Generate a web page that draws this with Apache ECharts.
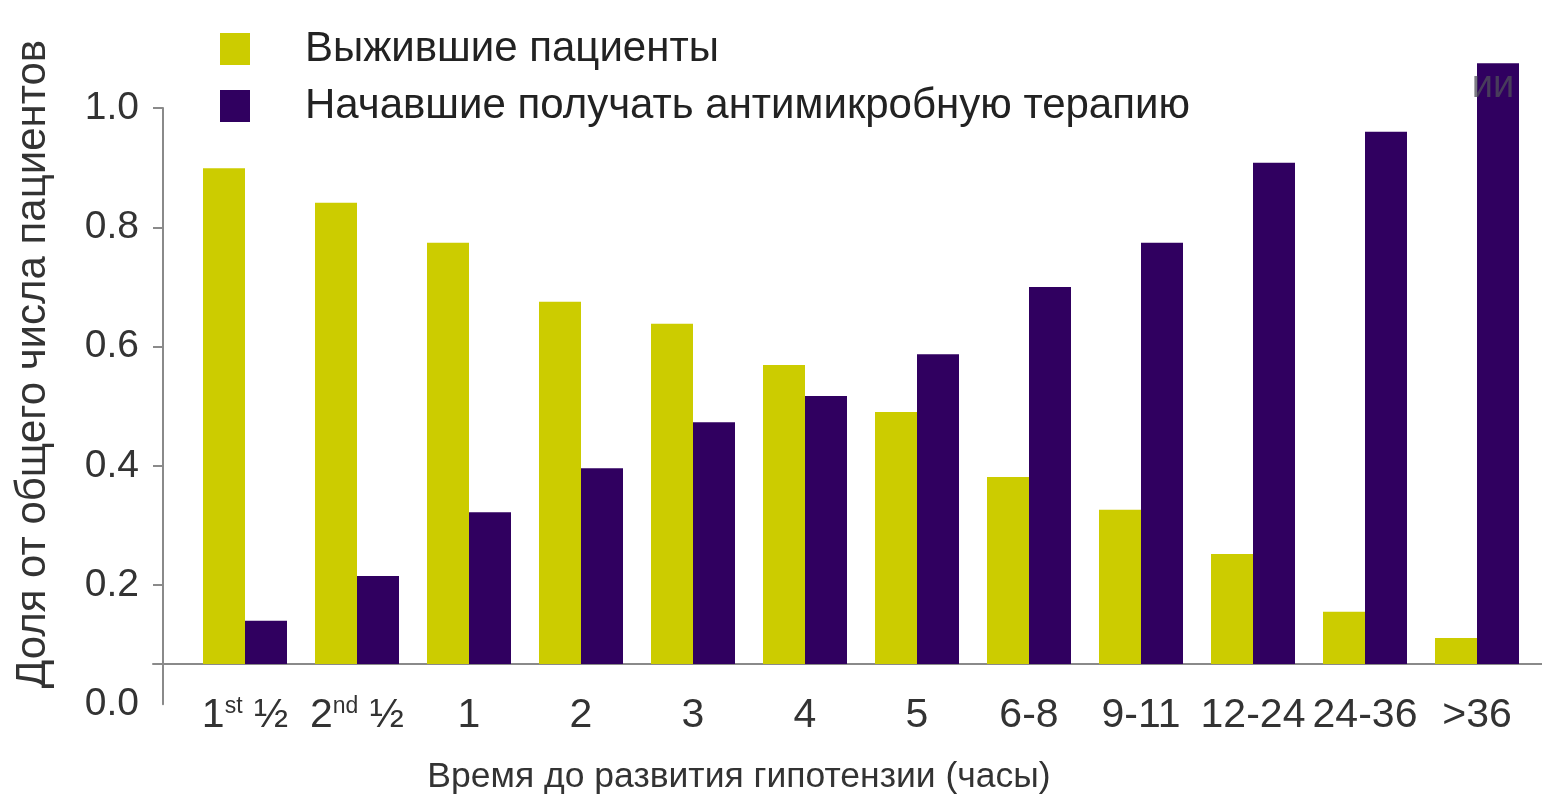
<!DOCTYPE html>
<html><head><meta charset="utf-8">
<script src="https://cdn.jsdelivr.net/npm/echarts@6/dist/echarts.min.js"></script>
<style>html,body{margin:0;padding:0;background:#fff}#c{width:1542px;height:808px}</style>
</head><body><div id="c"></div>
<script>
// ---- data ----
const categories = ['1st ½', '2nd ½', '1', '2', '3', '4', '5', '6-8', '9-11', '12-24', '24-36', '>36'];
const survived = [0.899, 0.841, 0.774, 0.675, 0.638, 0.569, 0.490, 0.381, 0.326, 0.252, 0.155, 0.111];
const startedTherapy = [0.140, 0.215, 0.322, 0.396, 0.473, 0.517, 0.587, 0.700, 0.774, 0.908, 0.960, 1.075];
const seriesNames = ['Выжившие пациенты', 'Начавшие получать антимикробную терапию'];
const yTickValues = [0.2, 0.4, 0.6, 0.8, 1.0];
const xTitle = 'Время до развития гипотензии (часы)';
const yTitle = 'Доля от общего числа пациентов';
const strayText = 'ии';

// ---- layout ----
const W = 1542, H = 808;
const PX = 596.25;        // pixels per 1.0 on the value scale
const Y0 = 704.25;        // pixel row of value 0
const BASE_Y = 664;       // pixel row of the category axis line
const yTopB = Y0 - 1.1 * PX;
const yMinB = (Y0 - BASE_Y) / PX;
const FONT = '"Liberation Sans", Arial, sans-serif';
const AX = '#8a8a8a';

const chart = echarts.init(document.getElementById('c'), null, {renderer: 'canvas'});
chart.setOption({
  backgroundColor: '#fff',
  animation: false,
  textStyle: {fontFamily: FONT},
  legend: {
    data: seriesNames, orient: 'vertical', left: 215, top: 23,
    itemWidth: 30, itemHeight: 32, itemGap: 15, icon: 'rect', selectedMode: false,
    textStyle: {fontSize: 42, lineHeight: 42, color: '#222', padding: [0, 0, 0, 50], fontFamily: FONT}
  },
  grid: [
    {left: 163, top: Y0 - PX, height: PX, width: 1000, containLabel: false},
    {left: 189, right: 9, top: yTopB, height: BASE_Y - yTopB, containLabel: false},
    {left: 153, right: 0, top: 100, bottom: H - BASE_Y, containLabel: false}
  ],
  xAxis: [
    {gridIndex: 0, type: 'value', show: false, min: 0, max: 1},
    {gridIndex: 1, type: 'category', data: categories,
      axisLine: {show: false}, axisTick: {show: false},
      axisLabel: {interval: 0, hideOverlap: false, fontSize: 41, color: '#333', margin: 31,
        formatter: v => v.replace(/^(\d)(st|nd)/, '$1{sup|$2}'),
        rich: {sup: {fontSize: 23, color: '#333', verticalAlign: 'top', fontFamily: FONT}}}},
    {gridIndex: 2, type: 'value', min: 0, max: 1,
      axisLine: {show: true, onZero: false, lineStyle: {color: AX, width: 2}},
      axisTick: {show: false}, axisLabel: {show: false}, splitLine: {show: false}}
  ],
  yAxis: [
    {gridIndex: 0, type: 'value', min: 0, max: 1, interval: 0.2,
      axisLine: {show: true, lineStyle: {color: AX, width: 2}},
      axisTick: {show: true, length: 10, customValues: yTickValues, lineStyle: {color: AX, width: 2}},
      axisLabel: {fontSize: 39, color: '#333', margin: 24, padding: [8, 0, 0, 0], formatter: v => v.toFixed(1)},
      splitLine: {show: false}},
    {gridIndex: 1, type: 'value', min: yMinB, max: 1.1, show: false},
    {gridIndex: 2, type: 'value', min: 0, max: 1, show: false}
  ],
  series: [
    {name: seriesNames[0], type: 'bar', xAxisIndex: 1, yAxisIndex: 1, data: survived,
      barWidth: 42, barGap: '0%', clip: true, itemStyle: {color: '#CCCC00'}},
    {name: seriesNames[1], type: 'bar', xAxisIndex: 1, yAxisIndex: 1, data: startedTherapy,
      barWidth: 42, barGap: '0%', clip: true, itemStyle: {color: '#300060'}}
  ],
  graphic: [
    {type: 'text', x: 739, y: 777, z: 10,
      style: {text: xTitle, font: '35.5px ' + FONT, fill: '#333', align: 'center', verticalAlign: 'middle'}},
    {type: 'text', x: 33, y: 364, rotation: Math.PI / 2, z: 10,
      style: {text: yTitle, font: '42px ' + FONT, fill: '#333', align: 'center', verticalAlign: 'middle'}},
    {type: 'text', x: 1493, y: 87, z: 100,
      style: {text: strayText, font: '38px ' + FONT, fill: 'rgba(80,80,90,0.75)', align: 'center', verticalAlign: 'middle'}}
  ]
});
</script></body></html>
